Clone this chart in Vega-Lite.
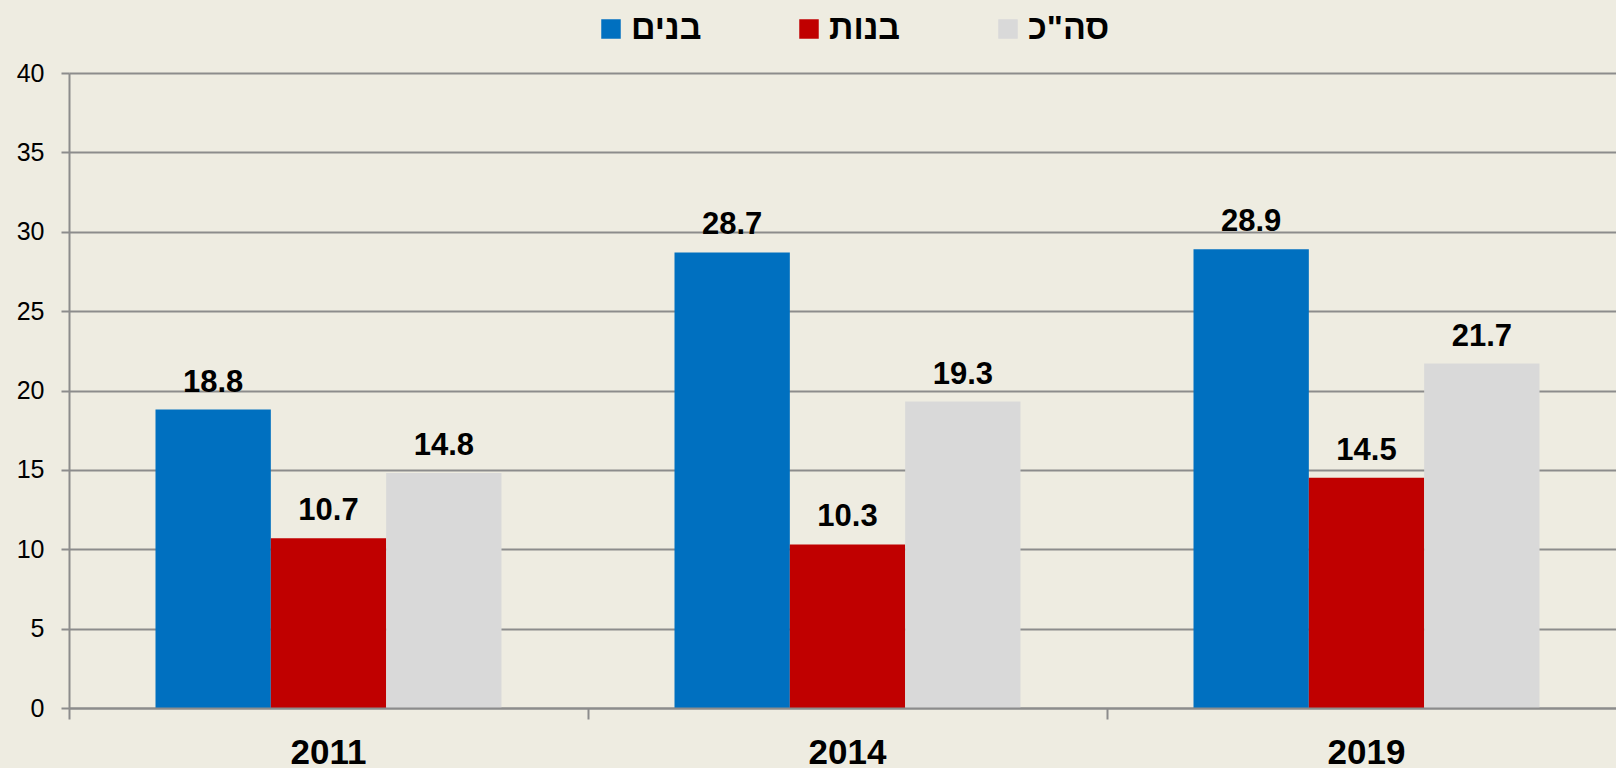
{
  "$schema": "https://vega.github.io/schema/vega-lite/v6.json",
  "width": 1547,
  "height": 635,
  "autosize": {"type": "none"},
  "padding": {"left": 69, "top": 73, "right": 0, "bottom": 60},
  "background": "#EEECE1",
  "config": {
    "font": "Liberation Sans",
    "view": {"stroke": null},
    "axis": {
      "domainColor": "#8C8C8C",
      "domainWidth": 2,
      "tickColor": "#8C8C8C",
      "tickWidth": 2,
      "gridColor": "#8C8C8C",
      "gridWidth": 2,
      "labelColor": "#000000",
      "title": null
    }
  },
  "data": {
    "values": [
      {"year": "2011", "group": "בנים", "value": 18.8},
      {"year": "2011", "group": "בנות", "value": 10.7},
      {"year": "2011", "group": "סה\"כ", "value": 14.8},
      {"year": "2014", "group": "בנים", "value": 28.7},
      {"year": "2014", "group": "בנות", "value": 10.3},
      {"year": "2014", "group": "סה\"כ", "value": 19.3},
      {"year": "2019", "group": "בנים", "value": 28.9},
      {"year": "2019", "group": "בנות", "value": 14.5},
      {"year": "2019", "group": "סה\"כ", "value": 21.7}
    ]
  },
  "encoding": {
    "x": {
      "field": "year",
      "type": "nominal",
      "scale": {"paddingInner": 0, "paddingOuter": 0, "range": [0, 1557]},
      "axis": {
        "bandPosition": 0,
        "labelAngle": 0,
        "labelFontSize": 35,
        "labelFontWeight": "bold",
        "tickSize": 11,
        "labelPadding": 16,
        "zindex": 1,
        "title": null
      }
    },
    "xOffset": {
      "field": "group",
      "type": "nominal",
      "sort": ["בנים", "בנות", "סה\"כ"],
      "scale": {"paddingInner": 0, "paddingOuter": 0.75}
    },
    "y": {
      "field": "value",
      "type": "quantitative",
      "scale": {"domain": [0, 40], "nice": false},
      "axis": {
        "values": [0, 5, 10, 15, 20, 25, 30, 35, 40],
        "labelFontSize": 25,
        "tickSize": 8,
        "labelPadding": 17,
        "grid": true,
        "title": null
      }
    }
  },
  "layer": [
    {
      "mark": {"type": "bar"},
      "encoding": {
        "color": {
          "field": "group",
          "type": "nominal",
          "sort": ["בנים", "בנות", "סה\"כ"],
          "scale": {"domain": ["בנים", "בנות", "סה\"כ"], "range": ["#0070C0", "#C00000", "#D9D9D9"]},
          "legend": {
            "orient": "none",
            "legendX": 525,
            "legendY": -61,
            "direction": "horizontal",
            "title": null,
            "symbolType": "square",
            "symbolSize": 380,
            "symbolStrokeWidth": 0,
            "labelFontSize": 34,
            "labelFontWeight": "bold",
            "labelColor": "#000000",
            "labelOffset": 3,
            "columnPadding": 90
          }
        }
      }
    },
    {
      "mark": {"type": "text", "dy": -18, "baseline": "alphabetic", "fontSize": 31, "fontWeight": "bold", "color": "#000000"},
      "encoding": {
        "text": {"field": "value", "type": "quantitative", "format": ".1f"}
      }
    }
  ]
}
